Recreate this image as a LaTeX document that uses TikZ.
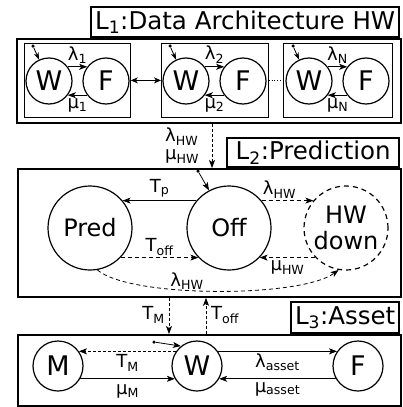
\documentclass[tikz,border=0pt]{standalone}
\usepackage{fontspec}
\setmainfont{DejaVu Sans}
\usetikzlibrary{arrows.meta}
\begin{document}
\begin{tikzpicture}[x=1pt,y=-1pt,
  big/.style={font=\fontsize{24}{26}\selectfont},
  bigger/.style={font=\fontsize{27}{28}\selectfont},
  ttl/.style={font=\fontsize{24.5}{26}\selectfont},
  lab/.style={font=\fontsize{18}{18}\selectfont, inner sep=0pt},
  st/.style={circle, draw, line width=1.2pt, inner sep=0pt, big},
  l1st/.style={st, minimum size=46pt, bigger},
  l2st/.style={st, minimum size=84pt},
  l3st/.style={st, minimum size=50pt, bigger},
  frame/.style={draw, line width=1.8pt, inner sep=0pt},
  tbox/.style={draw, line width=1.6pt, inner sep=0pt, ttl},
  subbox/.style={draw, line width=0.8pt, inner sep=0pt},
  arr/.style={-{Stealth[length=8pt,width=6pt,inset=2pt]}, line width=0.8pt},
  initarr/.style={-{Stealth[length=7pt,width=5pt,inset=2pt]}, line width=0.8pt},
  dsh/.style={dash pattern=on 4pt off 3pt},
  fdsh/.style={dash pattern=on 3pt off 2pt},
  dotn/.style={circle, fill, inner sep=0pt, minimum size=3.5pt},
]
\useasboundingbox (0,0) rectangle (403,407);

% ---------- L1 ----------
\node[frame, minimum width=384pt, minimum height=84pt, anchor=north west] (L1) at (16,38) {};
\node[tbox, minimum width=308pt, minimum height=30pt, anchor=south east] (T1) at (400,38) {L\textsubscript{1}:Data Architecture HW};

\node[subbox, minimum width=106pt, minimum height=74pt, anchor=north west] (B1) at (24,43) {};
\node[subbox, minimum width=107pt, minimum height=74pt, anchor=north west] (B2) at (161,43) {};
\node[subbox, minimum width=109pt, minimum height=74pt, anchor=north west] (B3) at (283,43) {};

\node[l1st] (W1) at (49,81) {W};
\node[l1st] (F1) at (106,81) {F};
\node[l1st] (W2) at (186,81) {W};
\node[l1st] (F2) at (243,81) {F};
\node[l1st] (W3) at (309,81) {W};
\node[l1st] (F3) at (366,81) {F};

\draw[arr] (W1.37) -- node[lab, above=3pt] {λ\textsubscript{1}} (F1.143);
\draw[arr] (F1.-143) -- node[lab, below=3pt] {μ\textsubscript{1}} (W1.-37);
\draw[arr] (W2.37) -- node[lab, above=3pt] {λ\textsubscript{2}} (F2.143);
\draw[arr] (F2.-143) -- node[lab, below=3pt] {μ\textsubscript{2}} (W2.-37);
\draw[arr] (W3.37) -- node[lab, above=3pt] {λ\textsubscript{N}} (F3.143);
\draw[arr] (F3.-143) -- node[lab, below=3pt] {μ\textsubscript{N}} (W3.-37);

\node[dotn] (d1) at (33,46) {};
\node[dotn] (d2) at (170,46) {};
\node[dotn] (d3) at (293,46) {};
\draw[initarr] (d1) -- (W1.115);
\draw[initarr] (d2) -- (W2.115);
\draw[initarr] (d3) -- (W3.115);

\draw[{Stealth[length=7pt,width=6pt,inset=2pt]}-{Stealth[length=7pt,width=6pt,inset=2pt]}, line width=0.8pt] (B1.east) -- (B2.west);
\draw[dotted, line width=0.8pt] (B2.east) -- (B3.west);

% ---------- L2 ----------
\node[frame, minimum width=383pt, minimum height=128pt, anchor=north west] (L2) at (17,168) {};
\node[tbox, minimum width=172pt, minimum height=29pt, anchor=south east] (T2) at (400,168) {L\textsubscript{2}:Prediction};

\coordinate (c1) at (212,0);
\draw[arr, fdsh] (L1.south -| c1) -- (L2.north -| c1);
\node[lab, anchor=west, align=left] (lhw) at (165,146) {λ\textsubscript{HW}\\μ\textsubscript{HW}};

\node[l2st] (Pred) at (90,228) {Pred};
\node[l2st] (Off) at (229,228) {Off};
\node[l2st, dash pattern=on 5pt off 4pt, align=center] (HW) at (346,228) {HW\\down};

\node[dotn] (d4) at (198,171) {};
\draw[arr] (d4) -- (Off.118);

\draw[arr] (Off.140) -- node[lab, above=3pt] {T\textsubscript{p}} (Pred.40);
\draw[arr, dsh] (Pred.-44) -- node[lab, above=2pt] {T\textsubscript{off}} (Off.-136);
\draw[arr, dsh] (Off.40) -- node[lab, above=2pt, xshift=-8pt] {λ\textsubscript{HW}} (HW.140);
\draw[arr, dsh] (HW.-136) -- node[lab, below=3pt] {μ\textsubscript{HW}} (Off.-44);
\draw[arr, dsh] (Pred.-80) .. controls (130,298) and (300,298) .. (HW.-100);
\node[lab] (lhw2) at (187,281) {λ\textsubscript{HW}};

% ---------- L3 ----------
\node[frame, minimum width=383pt, minimum height=71pt, anchor=north west] (L3) at (17,334) {};
\node[tbox, minimum width=108pt, minimum height=31pt, anchor=south east] (T3) at (400,334) {L\textsubscript{3}:Asset};

\coordinate (c2) at (169,0);
\coordinate (c3) at (206,0);
\draw[arr, fdsh] (L2.south -| c2) -- (L3.north -| c2);
\draw[arr, fdsh] (L3.north -| c3) -- (L2.south -| c3);
\node[lab, anchor=east] (ltm) at (165,315) {T\textsubscript{M}};
\node[lab, anchor=west] (ltoff) at (211,315) {T\textsubscript{off}};

\node[l3st] (M) at (58,366) {M};
\node[l3st] (W) at (197,366) {W};
\node[l3st] (F) at (358,366) {F};

\node[dotn] (d5) at (154,342) {};
\draw[arr] (d5) -- (W.129);

\draw[arr, fdsh] (W.145) -- node[lab, below=3pt] {T\textsubscript{M}} (M.35);
\draw[arr] (M.-30) -- node[lab, below=5pt] {μ\textsubscript{M}} (W.-150);
\draw[arr] (W.35) -- node[lab, below=2pt] {λ\textsubscript{asset}} (F.145);
\draw[arr] (F.-150) -- node[lab, below=3pt] {μ\textsubscript{asset}} (W.-30);
\end{tikzpicture}
\end{document}
